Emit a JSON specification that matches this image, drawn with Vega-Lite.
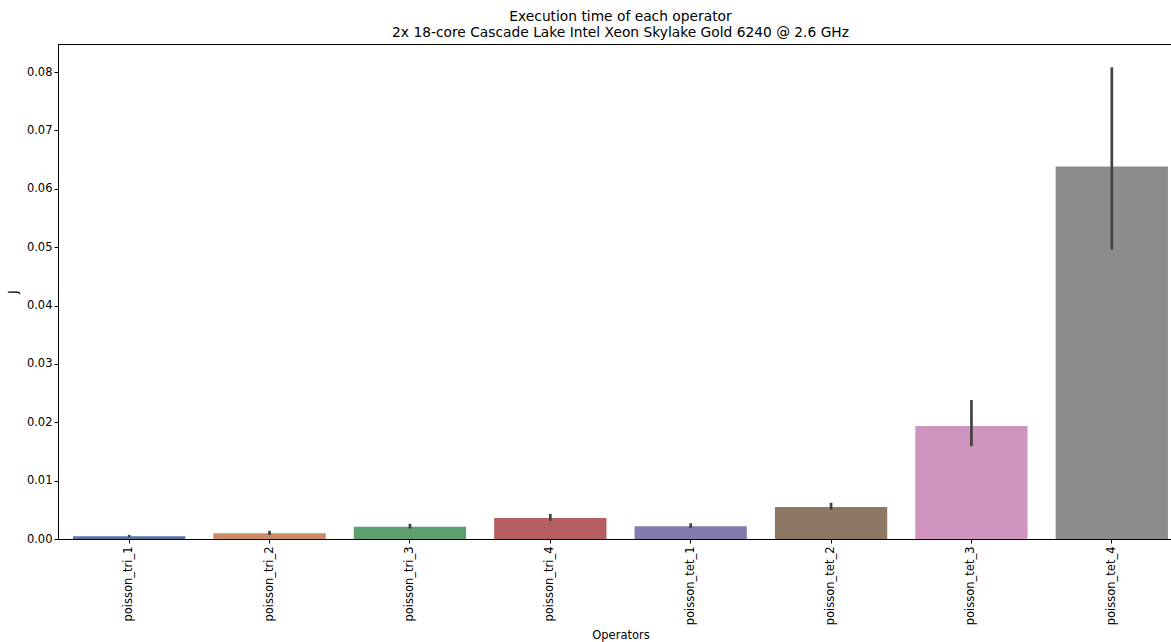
{
  "$schema": "https://vega.github.io/schema/vega-lite/v6.json",
  "autosize": "none",
  "width": 1113,
  "height": 495,
  "padding": {"left": 58, "top": 44, "right": 0, "bottom": 103},
  "background": "white",
  "config": {
    "font": "DejaVu Sans",
    "view": {"stroke": "black", "strokeWidth": 1},
    "axis": {"grid": false, "domainColor": "black", "tickColor": "black", "labelColor": "black", "titleColor": "black", "labelFont": "DejaVu Sans", "titleFont": "DejaVu Sans", "titleFontWeight": "normal", "labelFontSize": 11.5, "titleFontSize": 11.5, "tickSize": 4}
  },
  "title": {
    "text": ["Execution time of each operator", "2x 18-core Cascade Lake Intel Xeon Skylake Gold 6240 @ 2.6 GHz"],
    "fontSize": 13.8,
    "fontWeight": "normal",
    "font": "DejaVu Sans",
    "color": "black",
    "anchor": "middle",
    "dx": 6,
    "offset": 4,
    "lineHeight": 16.5
  },
  "data": {
    "values": [
      {"op": "poisson_tri_1", "mean": 0.00046, "lo": 0.00030, "hi": 0.00070},
      {"op": "poisson_tri_2", "mean": 0.00098, "lo": 0.00068, "hi": 0.00140},
      {"op": "poisson_tri_3", "mean": 0.0021, "lo": 0.0018, "hi": 0.0026},
      {"op": "poisson_tri_4", "mean": 0.0036, "lo": 0.0031, "hi": 0.0043},
      {"op": "poisson_tet_1", "mean": 0.0022, "lo": 0.0019, "hi": 0.0027},
      {"op": "poisson_tet_2", "mean": 0.0055, "lo": 0.0050, "hi": 0.0062},
      {"op": "poisson_tet_3", "mean": 0.01935, "lo": 0.0159, "hi": 0.0238},
      {"op": "poisson_tet_4", "mean": 0.0638, "lo": 0.0496, "hi": 0.0808}
    ]
  },
  "encoding": {
    "x": {
      "field": "op", "type": "nominal", "sort": null, "title": "Operators",
      "scale": {"paddingInner": 0.2, "paddingOuter": 0.1, "range": [1, 1124]},
      "axis": {"labelAngle": -90, "labelPadding": 3, "titlePadding": 5}
    }
  },
  "layer": [
    {
      "mark": {"type": "bar"},
      "encoding": {
        "y": {"field": "mean", "type": "quantitative", "title": "J",
          "scale": {"domain": [0, 0.0848], "nice": false},
          "axis": {"values": [0, 0.01, 0.02, 0.03, 0.04, 0.05, 0.06, 0.07, 0.08], "format": ".2f", "titlePadding": 8}},
        "color": {"field": "op", "type": "nominal", "sort": null, "legend": null,
          "scale": {"domain": ["poisson_tri_1", "poisson_tri_2", "poisson_tri_3", "poisson_tri_4", "poisson_tet_1", "poisson_tet_2", "poisson_tet_3", "poisson_tet_4"],
            "range": ["#5875A3", "#CC8963", "#5F9E6E", "#B55D60", "#857AAB", "#8D7866", "#D095BF", "#8C8C8C"]}}
      }
    },
    {
      "mark": {"type": "rule", "color": "#424242", "strokeWidth": 2.7},
      "encoding": {
        "y": {"field": "lo", "type": "quantitative"},
        "y2": {"field": "hi"}
      }
    }
  ]
}
